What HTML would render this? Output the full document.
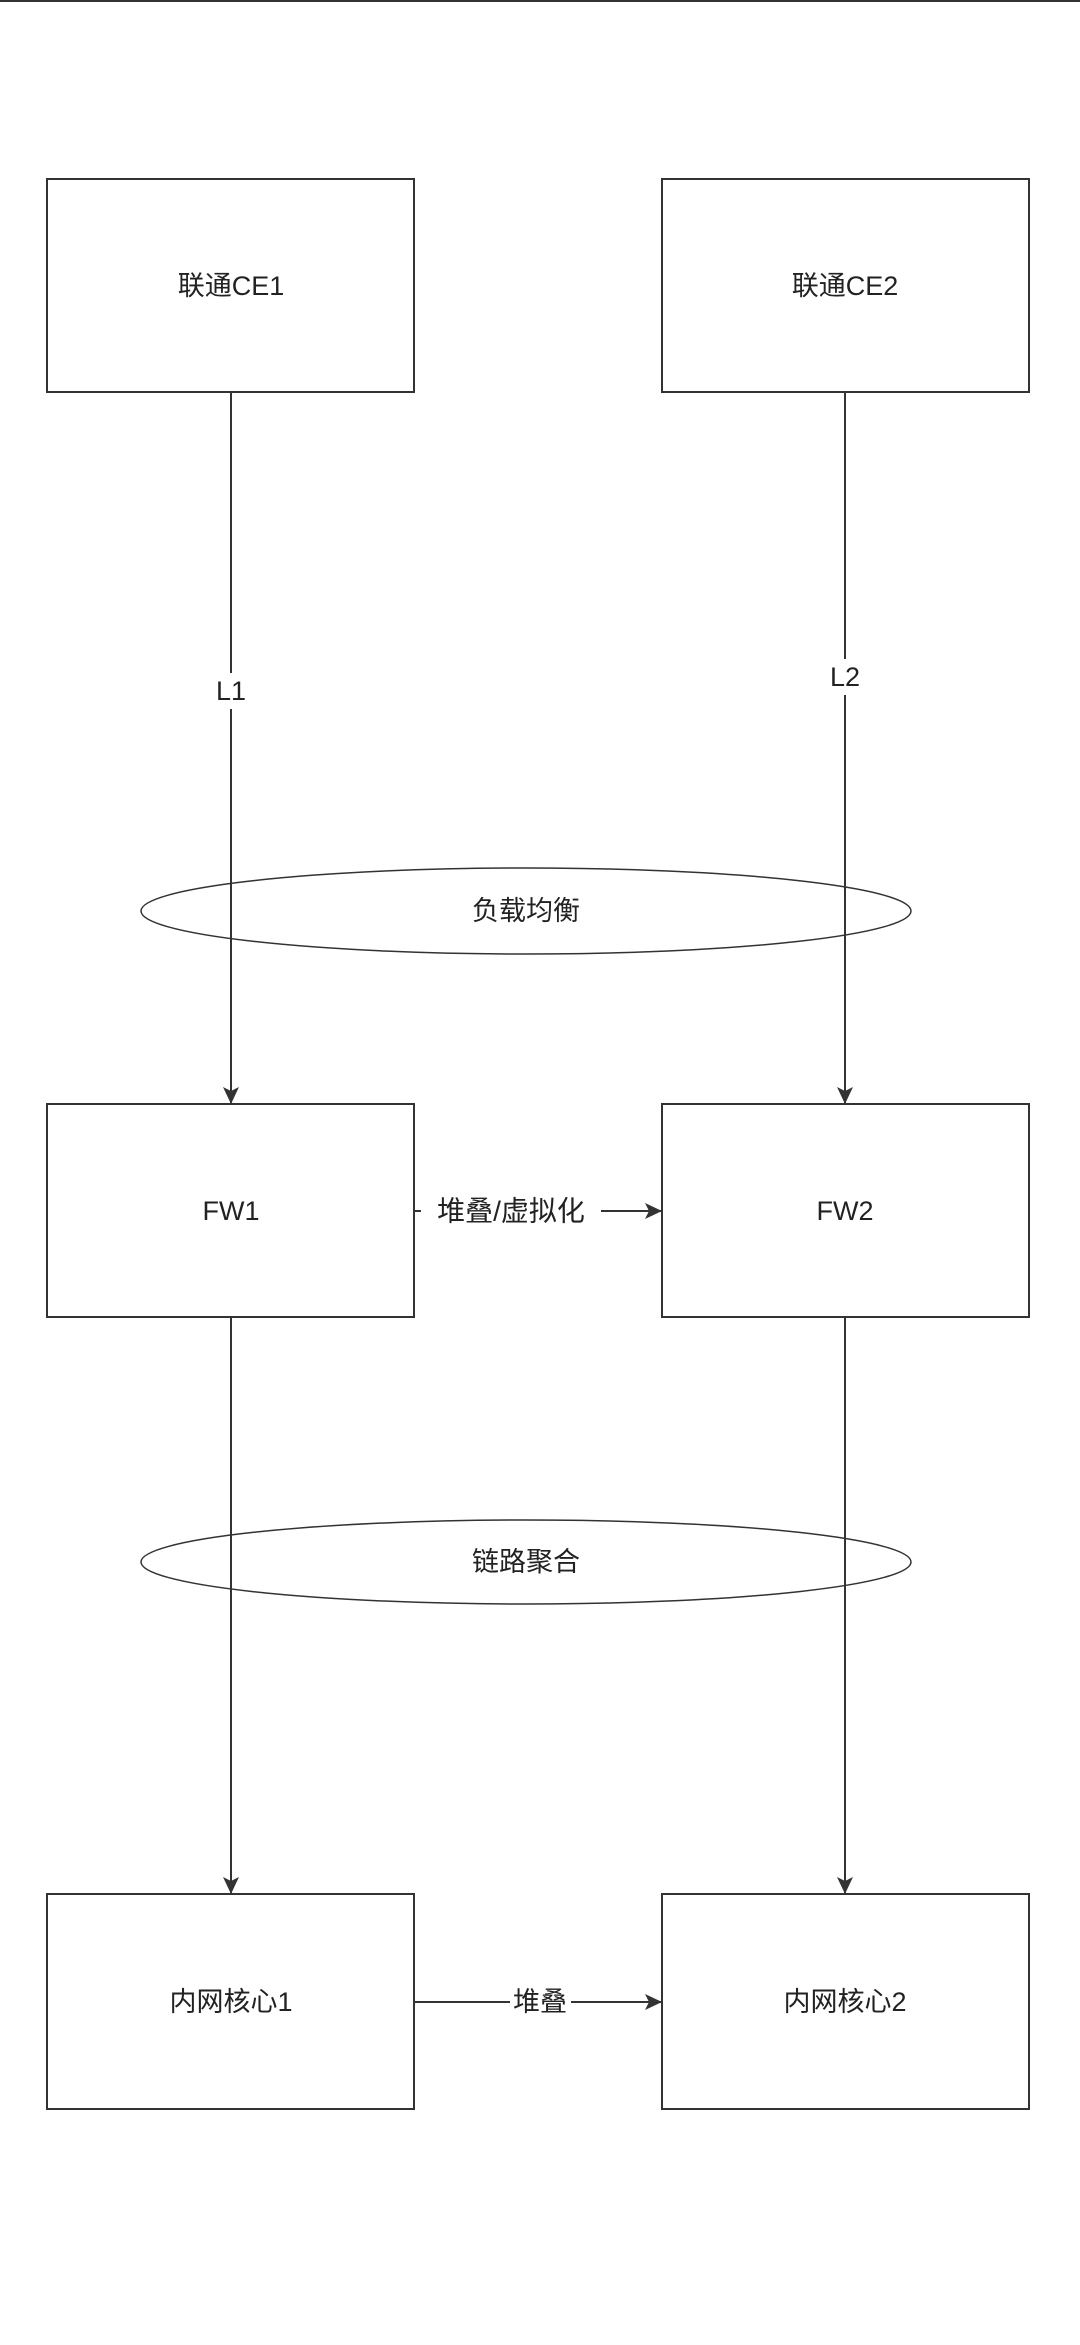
<!DOCTYPE html>
<html><head><meta charset="utf-8"><style>
html,body{margin:0;padding:0;background:#fff;}
svg text{font-family:"Liberation Sans","Noto Sans CJK SC",sans-serif;font-size:27px;fill:#222;}
</style></head><body>
<svg width="1080" height="2340" xmlns="http://www.w3.org/2000/svg">
<defs><marker id="b" markerWidth="18" markerHeight="18" refX="17" refY="8" orient="auto" markerUnits="userSpaceOnUse"><path d="M0,0 L17,8 L0,16 L4,8 Z" fill="#333"/></marker></defs>
<rect width="1080" height="2340" fill="#fff"/>
<line x1="0" y1="1" x2="1080" y2="1" stroke="#333" stroke-width="2"/>
<g transform="translate(1,3)">
<g fill="#fff" stroke="#333" stroke-width="2">
<rect x="46" y="176" width="367" height="213"/>
<rect x="661" y="176" width="367" height="213"/>
</g>
<g stroke="#333" stroke-width="2" fill="none">
<line x1="230" y1="389" x2="230" y2="1101" marker-end="url(#b)"/>
<line x1="844" y1="389" x2="844" y2="1101" marker-end="url(#b)"/>
<line x1="230" y1="1314" x2="230" y2="1891" marker-end="url(#b)"/>
<line x1="844" y1="1314" x2="844" y2="1891" marker-end="url(#b)"/>
<line x1="413" y1="1208" x2="661" y2="1208" marker-end="url(#b)"/>
<line x1="413" y1="1999" x2="661" y2="1999" marker-end="url(#b)"/>
<ellipse cx="525" cy="908" rx="385" ry="43" stroke-width="1.5"/>
<ellipse cx="525" cy="1559" rx="385" ry="42" stroke-width="1.5"/>
</g>
<g fill="#fff" stroke="#333" stroke-width="2">
<rect x="46" y="1101" width="367" height="213"/>
<rect x="661" y="1101" width="367" height="213"/>
<rect x="46" y="1891" width="367" height="215"/>
<rect x="661" y="1891" width="367" height="215"/>
</g>
<rect x="212" y="670" width="36" height="36" fill="#fff"/>
<rect x="826" y="656" width="36" height="36" fill="#fff"/>
<rect x="420" y="1190" width="180" height="36" fill="#fff"/>
<rect x="509" y="1981" width="61" height="36" fill="#fff"/>
<g text-anchor="middle" dominant-baseline="central">
<text x="230" y="283">联通CE1</text>
<text x="844" y="283">联通CE2</text>
<text x="230" y="688">L1</text>
<text x="844" y="674">L2</text>
<text x="525" y="908">负载均衡</text>
<text x="230" y="1208">FW1</text>
<text x="844" y="1208">FW2</text>
<text x="510" y="1208" style="font-size:28px">堆叠/虚拟化</text>
<text x="539" y="1999">堆叠</text>
<text x="525" y="1559">链路聚合</text>
<text x="230" y="1999">内网核心1</text>
<text x="844" y="1999">内网核心2</text>
</g>
</g>
</svg>
</body></html>
